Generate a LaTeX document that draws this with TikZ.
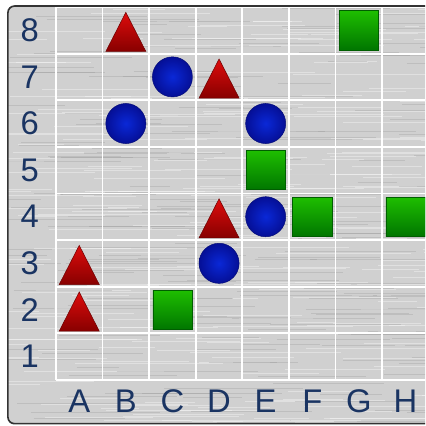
\documentclass[tikz,border=0pt]{standalone}
\usepackage{fontspec}
\setmainfont{Liberation Sans}
\usetikzlibrary{shapes.geometric}

\definecolor{boardgray}{RGB}{208,208,208}
\definecolor{labelblue}{RGB}{26,52,98}
\definecolor{redtop}{RGB}{222,12,12}
\definecolor{redbot}{RGB}{135,0,0}
\definecolor{bluein}{RGB}{10,40,215}
\definecolor{blueout}{RGB}{5,15,150}
\definecolor{greentop}{RGB}{30,190,0}
\definecolor{greenbot}{RGB}{0,118,0}

\begin{document}
\begin{tikzpicture}[
        tri/.style={isosceles triangle, shape border rotate=90, isosceles triangle stretches,
            minimum width=0.86cm, minimum height=0.84cm, inner sep=0pt, anchor=lower side,
            top color=redtop, bottom color=redbot, draw=redbot!80!black, line width=0.3pt},
        ball/.style={circle, minimum size=0.86cm, inner sep=0pt,
            inner color=bluein, outer color=blueout, draw=blueout!80!black, line width=0.3pt},
        sq/.style={rectangle, minimum size=0.84cm, inner sep=0pt,
            top color=greentop, bottom color=greenbot, draw=greenbot!80!black, line width=0.3pt},
        lbl/.style={text=labelblue, font=\fontsize{20}{24}\selectfont, inner sep=0pt},
        gridline/.style={white, line width=1.1pt}
    ]

    \useasboundingbox (-1.2,-0.99) rectangle (7.92,8.15);
    \clip (-1.2,-0.99) rectangle (7.92,8.15);

    % brushed board
    \fill[boardgray, rounded corners=4pt] (-1.03,-0.94) rectangle (8.3,8.02);
    \begin{scope}
        \clip[rounded corners=4pt] (-1.03,-0.94) rectangle (8.3,8.02);
        \pgfmathsetseed{11}
        \foreach \k in {1,...,260} {
            \pgfmathsetmacro\yy{rnd*9.1-1}
            \pgfmathsetmacro\xa{rnd*9.5-1.5}
            \pgfmathsetmacro\len{rnd*2.5+0.8}
            \draw[white, opacity=0.35, line width=0.35pt] (\xa,\yy) -- ++(\len,0);
        }
        \foreach \k in {1,...,200} {
            \pgfmathsetmacro\yy{rnd*9.1-1}
            \pgfmathsetmacro\xa{rnd*9.5-1.5}
            \pgfmathsetmacro\len{rnd*2.5+0.8}
            \draw[gray, opacity=0.22, line width=0.3pt] (\xa,\yy) -- ++(\len,0);
        }
    \end{scope}

    % grid
    \foreach \i in {0,...,8} {
        \draw[gridline] (\i,0) -- (\i,8);
        \draw[gridline] (0,\i) -- (8,\i);
    }

    % frame
    \draw[black!80, line width=1pt, rounded corners=4pt] (-1.03,-0.94) rectangle (8.3,8.02);

    % labels
    \foreach \r in {1,...,8}
        \node[lbl] (row-\r) at (-0.56,\r-0.5) {\r};
    \foreach \l [count=\c] in {A,B,C,D,E,F,G,H}
        \node[lbl] (col-\l) at (\c-0.5,-0.45) {\l};

    % pieces
    \foreach \c/\r in {2/8, 4/7, 4/4, 1/3, 1/2}
        \node[tri] (tri-\c-\r) at (\c-0.5,\r-0.96) {};
    \foreach \c/\r in {3/7, 2/6, 5/6, 5/4, 4/3}
        \node[ball] (ball-\c-\r) at (\c-0.5,\r-0.5) {};
    \foreach \c/\r in {7/8, 5/5, 6/4, 8/4, 3/2}
        \node[sq] (sq-\c-\r) at (\c-0.5,\r-0.5) {};

\end{tikzpicture}
\end{document}
